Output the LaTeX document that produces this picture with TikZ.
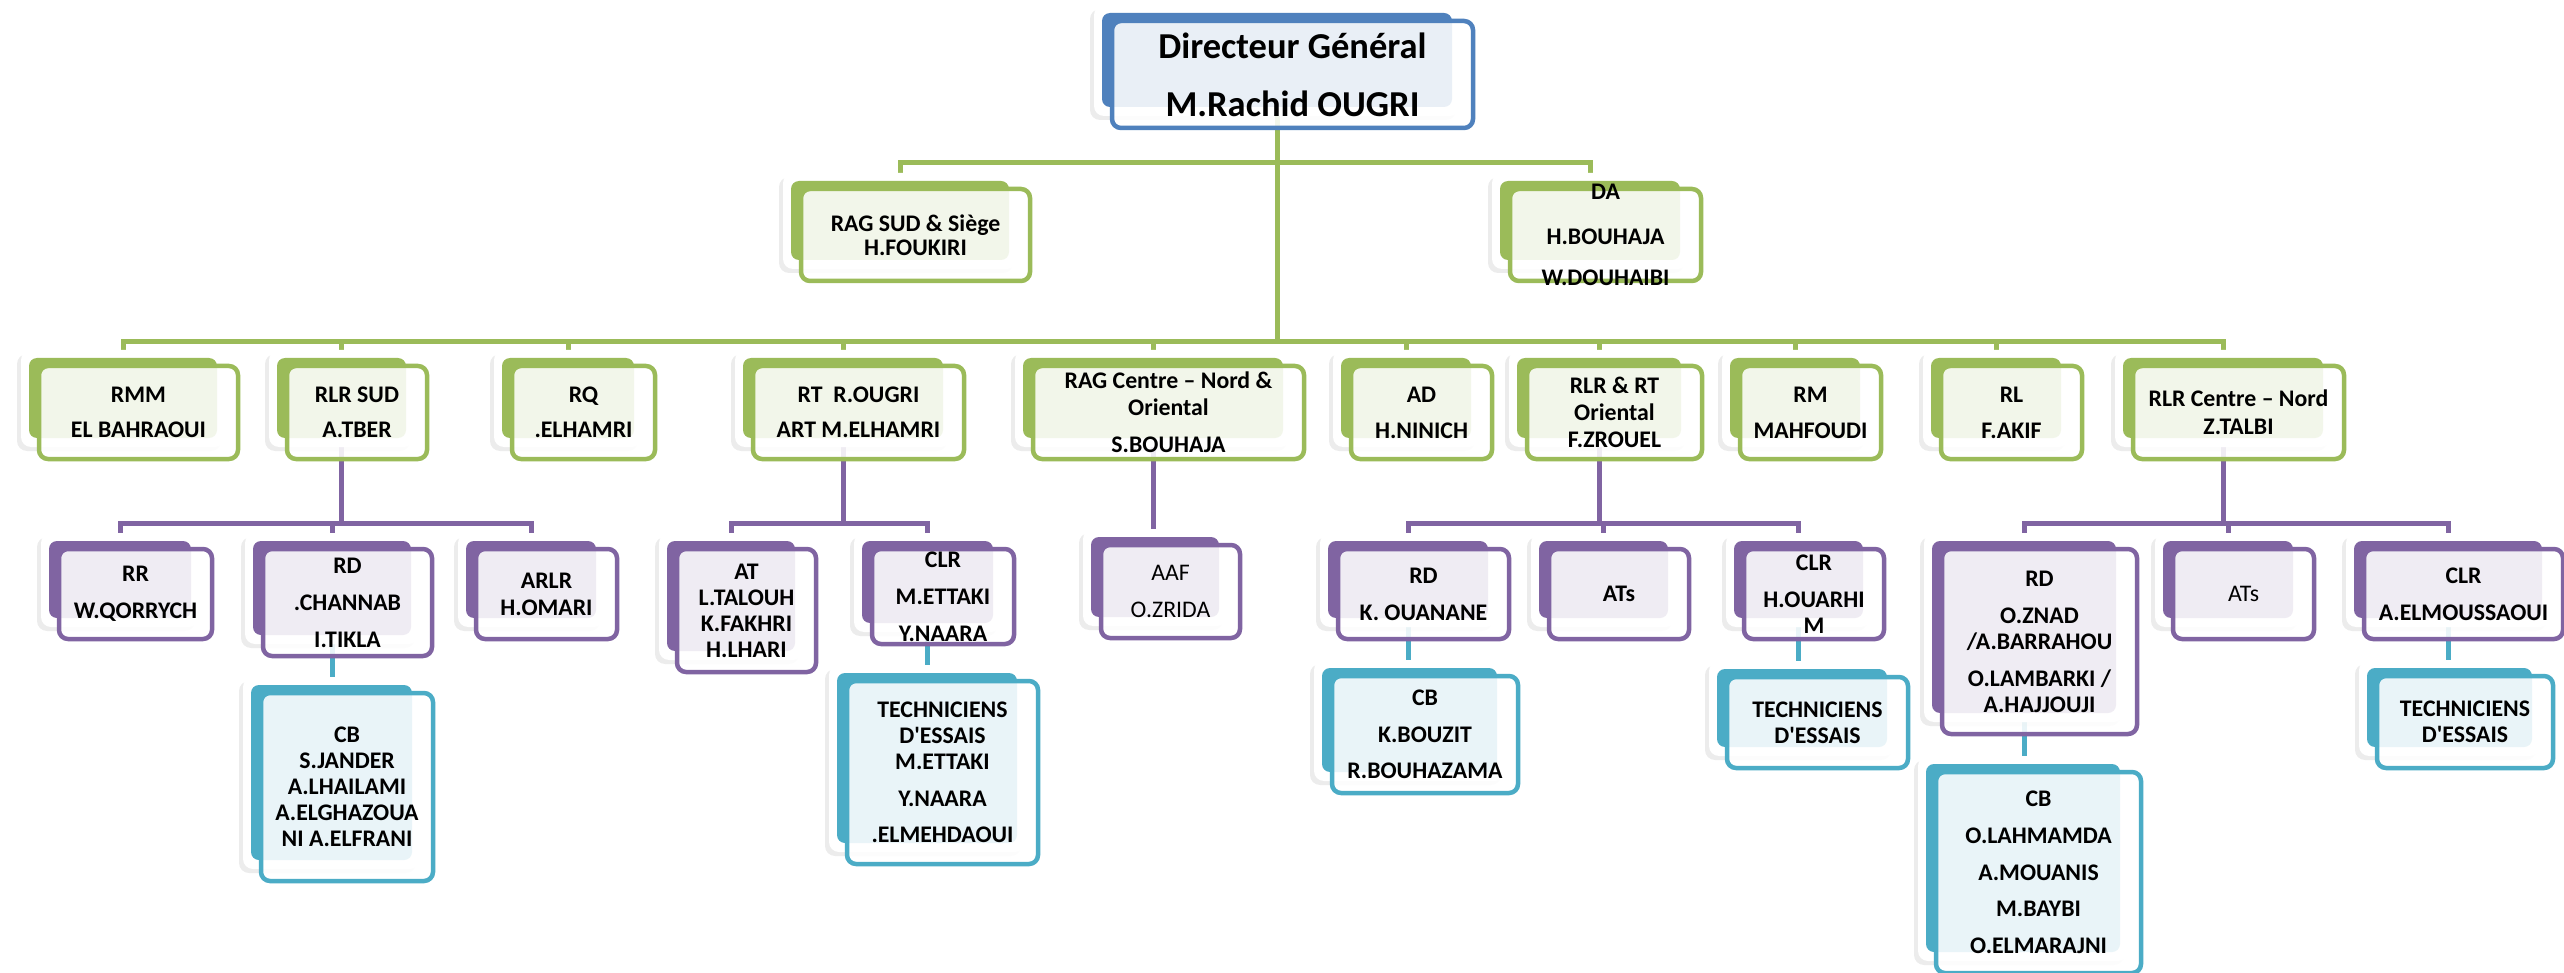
\documentclass[tikz,border=0pt]{standalone}
\usepackage{fontspec}
\setmainfont{Carlito}
\usetikzlibrary{shadows}
\pgfdeclarelayer{bg}
\pgfsetlayers{bg,main}
\definecolor{cBlue}{HTML}{4F81BD}
\definecolor{cGreen}{HTML}{9BBB59}
\definecolor{cPurple}{HTML}{8064A2}
\definecolor{cTeal}{HTML}{4BACC6}
\tikzset{
 cardbox/.style={rectangle, rounded corners=10pt, fill=white, draw=none, inner sep=0pt,
   drop shadow={shadow xshift=-4pt, shadow yshift=-4pt, opacity=0.12, fill=black!60}},
 backbox/.style={rectangle, rounded corners=8pt, draw=none, inner sep=0pt},
 fgbox/.style={rectangle, rounded corners=9pt, line width=4.5pt, fill=white, fill opacity=0.88, inner sep=0pt},
 txt/.style={align=center, inner sep=0pt, font=\fontsize{23.8pt}{26pt}\selectfont\bfseries, text=black},
 regtxt/.style={font=\fontsize{23.8pt}{26pt}\selectfont\mdseries},
 conn/.style={line width=5pt},
}
% #1 text options, #2 name, #3 colour, #4 x1, #5 y1, #6 x2, #7 y2 (back rectangle), #8 text
\newcommand\obox[8][]{%
 \node[cardbox, minimum width={#6-#4+16}, minimum height={#7-#5+17}] (#2w) at ({(#4+#6)/2},{(#5+#7)/2+0.5}) {};
 \node[backbox, fill=#3, minimum width={#6-#4}, minimum height={#7-#5}] (#2) at ({(#4+#6)/2},{(#5+#7)/2}) {};
 \node[fgbox, draw=#3, minimum width={#6-#4+11}, minimum height={#7-#5+13}] (#2f) at ({(#4+#6)/2+15.5},{(#5+#7)/2+14.5}) {};
 \node[txt,#1] (#2t) at (#2f.center) {#8};
}
\begin{document}
\begin{tikzpicture}[x=1pt,y=-1pt]
\useasboundingbox (0,0) rectangle (2564,973);
% top
\obox[font=\fontsize{36.5pt}{58pt}\selectfont\bfseries]{dg}{cBlue}{1102}{13}{1452}{107}{Directeur Général\\M.Rachid OUGRI}
\obox{ragsud}{cGreen}{791}{181}{1009}{260}{RAG SUD \& Siège\\[-2pt]H.FOUKIRI}
\obox{da}{cGreen}{1500}{181}{1680}{260}{DA\\[19pt]H.BOUHAJA\\[15pt]W.DOUHAIBI}
% level 2
\obox{rmm}{cGreen}{29}{358}{217}{438}{RMM\\[9pt]EL BAHRAOUI}
\obox{rlrsud}{cGreen}{277}{358}{406}{438}{RLR SUD\\[9pt]A.TBER}
\obox{rq}{cGreen}{502}{358}{634}{438}{RQ\\[9pt].ELHAMRI}
\obox{rt}{cGreen}{743}{358}{943}{438}{RT~~R.OUGRI\\[9pt]ART M.ELHAMRI}
\obox{ragcn}{cGreen}{1023}{358}{1283}{438}{RAG Centre – Nord \&\\[1pt]Oriental\\[11pt]S.BOUHAJA}
\obox{ad}{cGreen}{1341}{358}{1471}{438}{AD\\[10pt]H.NINICH}
\obox{rlro}{cGreen}{1517}{358}{1681}{438}{RLR \& RT\\[1pt]Oriental\\[1pt]F.ZROUEL}
\obox{rm}{cGreen}{1730}{358}{1860}{438}{RM\\[10pt]MAHFOUDI}
\obox{rl}{cGreen}{1931}{358}{2061}{438}{RL\\[10pt]F.AKIF}
\obox{rlrcn}{cGreen}{2123}{358}{2323}{438}{RLR Centre – Nord\\[2pt]Z.TALBI}
% level 3
\obox{rr}{cPurple}{49}{541}{191}{618}{RR\\[11pt]W.QORRYCH}
\obox{rda}{cPurple}{253}{541}{411}{635}{RD\\[11pt].CHANNAB\\[11pt]I.TIKLA}
\obox{arlr}{cPurple}{466}{541}{596}{618}{ARLR\\[1pt]H.OMARI}
\obox{at}{cPurple}{667}{541}{795}{651}{AT\\L.TALOUH\\K.FAKHRI\\H.LHARI}
\obox{clra}{cPurple}{862}{541}{993}{623}{CLR\\[11pt]M.ETTAKI\\[11pt]Y.NAARA}
\obox[regtxt]{aaf}{cPurple}{1091}{537}{1219}{617}{AAF\\[11pt]O.ZRIDA}
\obox{rdb}{cPurple}{1328}{541}{1488}{618}{RD\\[11pt]K. OUANANE}
\obox{atsa}{cPurple}{1539}{541}{1668}{618}{ATs}
\obox{clrb}{cPurple}{1734}{541}{1863}{618}{CLR\\[11pt]H.OUARHI\\M}
\obox{rdc}{cPurple}{1932}{541}{2116}{713}{RD\\[11pt]O.ZNAD\\/A.BARRAHOU\\[11pt]O.LAMBARKI /\\A.HAJJOUJI}
\obox[regtxt]{atsb}{cPurple}{2163}{541}{2293}{618}{ATs}
\obox{clrc}{cPurple}{2354}{541}{2542}{618}{CLR\\[11pt]A.ELMOUSSAOUI}
% level 4
\obox{cba}{cTeal}{251}{685}{412}{860}{CB\\S.JANDER\\A.LHAILAMI\\A.ELGHAZOUA\\NI A.ELFRANI}
\obox{techa}{cTeal}{837}{673}{1017}{843}{TECHNICIENS\\D\textquotesingle ESSAIS\\M.ETTAKI\\[11pt]Y.NAARA\\[10pt].ELMEHDAOUI}
\obox{cbb}{cTeal}{1322}{668}{1497}{772}{CB\\[11pt]K.BOUZIT\\[10pt]R.BOUHAZAMA}
\obox{techb}{cTeal}{1717}{669}{1887}{747}{TECHNICIENS\\D\textquotesingle ESSAIS}
\obox{cbc}{cTeal}{1926}{764}{2120}{952}{CB\\[11pt]O.LAHMAMDA\\[11pt]A.MOUANIS\\[10pt]M.BAYBI\\[11pt]O.ELMARAJNI}
\obox{techc}{cTeal}{2367}{668}{2532}{747}{TECHNICIENS\\D\textquotesingle ESSAIS}
% connectors
\begin{pgfonlayer}{bg}
\fill[white] (0,0) rectangle (2564,973);
\coordinate (b1) at (0,163);
\coordinate (b2) at (0,342);
\coordinate (b3) at (0,523);
\foreach \c in {ragsud,da}
  \draw[conn,cGreen] (dg.center) -- (dg.center |- b1) -| (\c.north);
\foreach \c in {rmm,rlrsud,rq,rt,ragcn,ad,rlro,rm,rl,rlrcn}
  \draw[conn,cGreen] (dg.center) -- (dg.center |- b2) -| (\c.north);
\foreach \c in {rr,rda,arlr}
  \draw[conn,cPurple] (rlrsud.center) -- (rlrsud.center |- b3) -| (\c.north);
\foreach \c in {at,clra}
  \draw[conn,cPurple] (rt.center) -- (rt.center |- b3) -| (\c.north);
\draw[conn,cPurple] (ragcn.center) -- (ragcn.center |- aaf.north);
\foreach \c in {rdb,atsa,clrb}
  \draw[conn,cPurple] (rlro.center) -- (rlro.center |- b3) -| (\c.north);
\foreach \c in {rdc,atsb,clrc}
  \draw[conn,cPurple] (rlrcn.center) -- (rlrcn.center |- b3) -| (\c.north);
\draw[conn,cTeal] (rda.center) -- (rda.center |- cba.north);
\draw[conn,cTeal] (clra.center) -- (clra.center |- techa.north);
\draw[conn,cTeal] (rdb.center) -- (rdb.center |- cbb.north);
\draw[conn,cTeal] (clrb.center) -- (clrb.center |- techb.north);
\draw[conn,cTeal] (rdc.center) -- (rdc.center |- cbc.north);
\draw[conn,cTeal] (clrc.center) -- (clrc.center |- techc.north);
\end{pgfonlayer}
\end{tikzpicture}
\end{document}
